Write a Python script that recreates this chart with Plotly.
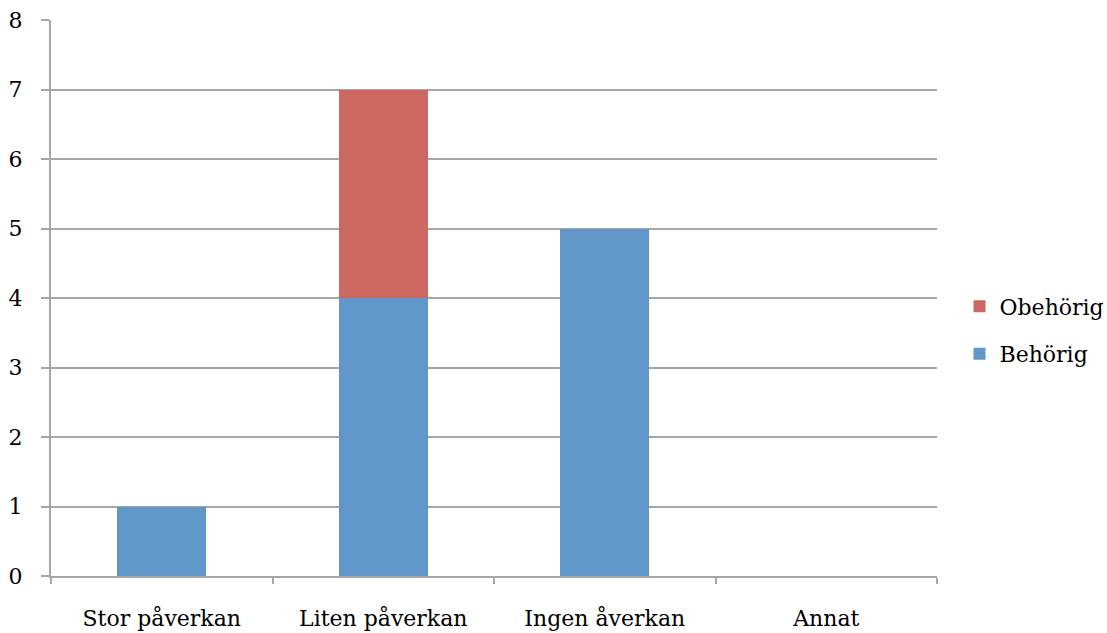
import plotly.graph_objects as go

categories = ["Stor påverkan", "Liten påverkan", "Ingen åverkan", "Annat"]
behorig = [1, 4, 5, 0]
obehorig = [0, 3, 0, 0]
y_ticks = [0, 1, 2, 3, 4, 5, 6, 7, 8]

grid_color = "#a6a6a6"
font = dict(family="DejaVu Serif", size=22, color="#000000")

fig = go.Figure()
fig.add_trace(go.Bar(name="Behörig", x=categories, y=behorig,
                     legendgroup="b", legendrank=2,
                     marker=dict(color="#6196ca", line=dict(width=0))))
fig.add_trace(go.Bar(name="Obehörig", x=categories, y=obehorig,
                     legendgroup="o", legendrank=1,
                     marker=dict(color="#cd6761", line=dict(width=0))))

fig.update_layout(
    barmode="stack",
    bargap=0.6,
    width=1107, height=633,
    margin=dict(l=51, r=170, t=20, b=57, autoexpand=False),
    plot_bgcolor="white", paper_bgcolor="white",
    font=font,
    legend=dict(x=1.0254, y=0.4416, xanchor="left", yanchor="middle",
                traceorder="grouped", font=font, itemwidth=30,
                tracegroupgap=16),
)
fig.update_xaxes(
    showline=True, linecolor=grid_color, linewidth=2,
    ticks="outside", tickson="boundaries", ticklen=6, tickcolor=grid_color,
    tickwidth=2, showgrid=False, ticklabelstandoff=22,
)
fig.update_yaxes(
    range=[0, 8], tickvals=y_ticks,
    showline=True, linecolor=grid_color, linewidth=2,
    showgrid=True, gridcolor=grid_color, gridwidth=2,
    ticks="outside", ticklen=8, tickcolor=grid_color, tickwidth=2,
    zeroline=False, ticklabelstandoff=14,
)

fig.write_html("out.html")
